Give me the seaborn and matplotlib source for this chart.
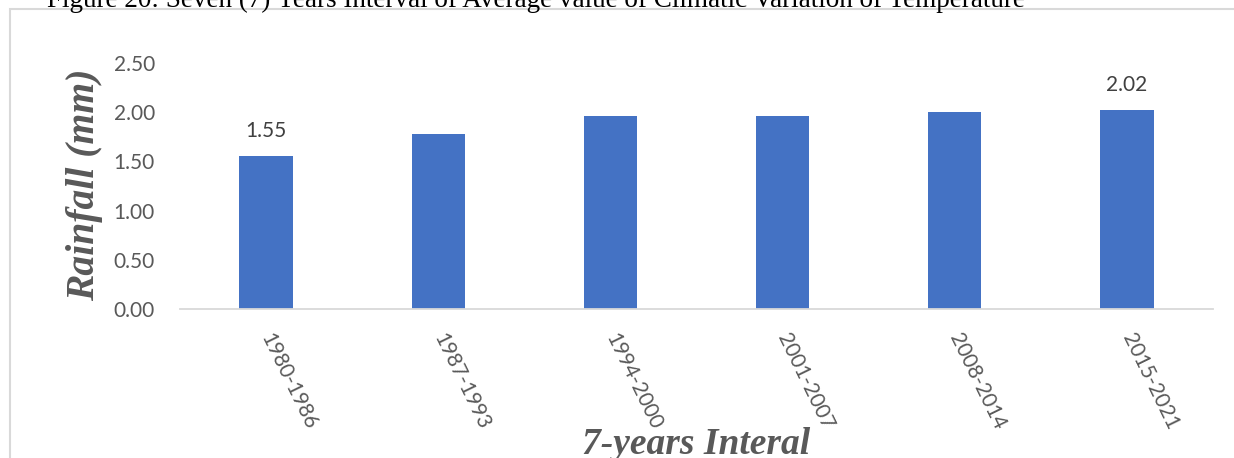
import matplotlib
matplotlib.use("Agg")
import matplotlib.pyplot as plt
import seaborn as sns
import pandas as pd
from matplotlib.patches import Rectangle

INTERVALS = ["1980-1986", "1987-1993", "1994-2000", "2001-2007", "2008-2014", "2015-2021"]
RAINFALL = [1.55, 1.78, 1.96, 1.96, 2.00, 2.02]
Y_TICKS = [0.0, 0.5, 1.0, 1.5, 2.0, 2.5]
LABELLED = ["1980-1986", "2015-2021"]
CAPTION = "Figure 20: Seven (7) Years Interval of Average value of Climatic Variation of Temperature"

sns.set_theme(style="white")
plt.rcParams["font.family"] = ["Lato", "DejaVu Sans"]

W, H = 1234, 458
GREY = "#595959"
SERIF = "Liberation Serif"


def main():
    fig = plt.figure(figsize=(W / 100, H / 100), dpi=100)
    ax = fig.add_axes([180 / W, (H - 309) / H, (1213 - 180) / W, 246 / H])

    df = pd.DataFrame({"interval": INTERVALS, "rainfall": RAINFALL})
    sns.barplot(data=df, x="interval", y="rainfall", color="#4472C4",
                saturation=1, width=0.31, linewidth=0, ax=ax)

    ax.set_xlim(-0.5, len(INTERVALS) - 0.5)
    ax.set_ylim(0, 2.5)
    ax.set_yticks(Y_TICKS)
    ax.set_yticklabels([f"{v:.2f}" for v in Y_TICKS])

    for s in ["top", "right", "left"]:
        ax.spines[s].set_visible(False)
    ax.spines["bottom"].set_color("#d9d9d9")
    ax.spines["bottom"].set_linewidth(1.3)

    ax.tick_params(axis="y", length=0, pad=18, labelsize=15, labelcolor=GREY)
    ax.tick_params(axis="x", length=0, pad=18, labelsize=15, labelcolor=GREY)
    for lbl in ax.get_xticklabels():
        lbl.set_rotation(-64)
        lbl.set_ha("left")
        lbl.set_va("center")
        lbl.set_rotation_mode("anchor")

    # data labels only on first and last bar
    for i, (name, v) in enumerate(zip(INTERVALS, RAINFALL)):
        if name in LABELLED:
            ax.annotate(f"{v:.2f}", (i, v), xytext=(0, 11), textcoords="offset points",
                        ha="center", va="bottom", fontsize=15, color="#404040")

    ax.set_ylabel("Rainfall (mm)", family=SERIF, weight="bold", style="italic",
                  size=28.5, color=GREY)
    ax.yaxis.label.set_va("center")
    ax.yaxis.set_label_coords((85 - 180) / 1033, (309 - 184.5) / 246)

    ax.set_xlabel("7-years Interal", family=SERIF, weight="bold", style="italic",
                  size=27, color=GREY)
    ax.xaxis.label.set_va("baseline")
    ax.xaxis.set_label_coords(0.5, (309 - 454) / 246)

    fig.text(47 / W, 1 - 7 / H, CAPTION, family=SERIF, size=19.5, color="black",
             ha="left", va="baseline")

    fig.add_artist(Rectangle((10 / W, -0.1), 2, 1 - 9 / H + 0.1, transform=fig.transFigure,
                             fill=False, edgecolor="#d9d9d9", linewidth=1.5))

    fig.savefig("out.png", dpi=100)
    plt.close(fig)


if __name__ == "__main__":
    main()
